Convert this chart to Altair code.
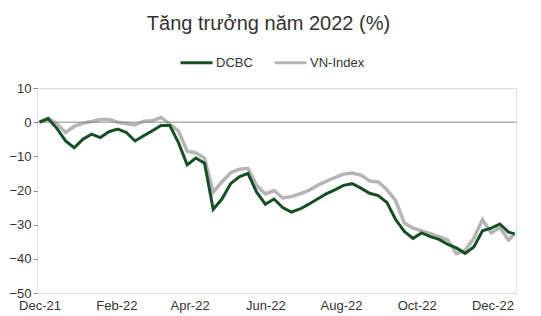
import altair as alt
import pandas as pd

title_text = "Tăng trưởng năm 2022 (%)"
series_names = ["DCBC", "VN-Index"]
series_colors = ["#174f24", "#b5b5b5"]
x_tick_dates = ["2021-12-01", "2022-02-01", "2022-04-01", "2022-06-01",
                "2022-08-01", "2022-10-01", "2022-12-01"]
y_ticks = [10, 0, -10, -20, -30, -40, -50]

weekly_dates = [d.strftime("%Y-%m-%d") for d in pd.date_range("2021-12-01", periods=55, freq="7D")]
dates = weekly_dates + ["2022-12-19"]

dcbc = [0, 1, -1.8, -5.5, -7.5, -5, -3.5, -4.5, -2.8, -2, -3, -5.5, -4, -2.5, -1,
        -1, -6, -12.5, -10.5, -12, -25.5, -22.5, -18, -16, -15, -20.5, -24, -22.5,
        -25, -26.3, -25.4, -24, -22.5, -21, -19.8, -18.5, -18, -19.3, -20.8, -21.5,
        -23.5, -28.5, -32, -34, -32.4, -33.5, -34.3, -35.8, -36.8, -38.4, -36.5,
        -31.8, -31, -29.8, -32.2, -32.7]
vnindex = [0, 1.2, -0.5, -3, -1.2, -0.3, 0.2, 0.8, 0.8, 0, -0.4, -0.8, 0.3, 0.4, 1.4,
           -0.6, -2.6, -8.5, -9, -10.5, -20.5, -17.5, -14.8, -13.8, -13.5, -18.5, -21,
           -20, -22.2, -21.8, -21, -20, -18.5, -17.3, -16.2, -15.2, -14.9, -15.5, -17.2,
           -17.5, -19.8, -23, -29.5, -31, -31.8, -32.6, -33.5, -34.5, -38.5, -37.5, -34,
           -28.5, -32.4, -30.8, -34.5, -32.7]

df = pd.DataFrame({
    "date": dates * 2,
    "value": dcbc + vnindex,
    "series": ["DCBC"] * len(dates) + ["VN-Index"] * len(dates),
})

FONT = "Liberation Sans"

x_enc = alt.X("date:T",
              scale=alt.Scale(domain=["2021-11-29", "2022-12-20"]),
              axis=alt.Axis(values=x_tick_dates, format="%b-%y", title=None,
                            grid=False, domain=False, ticks=False,
                            labelPadding=6, labelFontSize=13, labelColor="#333",
                            labelFont=FONT, labelFlush=False, labelOverlap=False))
y_enc = alt.Y("value:Q",
              scale=alt.Scale(domain=[-50, 10], nice=False),
              axis=alt.Axis(values=y_ticks, title=None, grid=False, domain=False,
                            tickSize=4, tickColor="#888", labelPadding=2,
                            labelFontSize=13, labelColor="#333", labelFont=FONT,
                            labelOverlap=False, labelFlush=False))
color_enc = alt.Color("series:N",
                      scale=alt.Scale(domain=series_names, range=series_colors),
                      legend=alt.Legend(title=None, orient="none", direction="horizontal",
                                        legendX=142, legendY=-43,
                                        symbolType="stroke", symbolSize=1024,
                                        symbolStrokeWidth=3, labelFontSize=13,
                                        labelFont=FONT, labelColor="#333",
                                        labelOffset=2, columnPadding=15))

base = alt.Chart(df)

gray_line = base.transform_filter(alt.datum.series == "VN-Index").mark_line(
    strokeWidth=3.5, interpolate="linear").encode(x=x_enc, y=y_enc, color=color_enc)
green_line = base.transform_filter(alt.datum.series == "DCBC").mark_line(
    strokeWidth=3, interpolate="linear").encode(x=x_enc, y=y_enc, color=color_enc)

zero_rule = alt.Chart(pd.DataFrame({"value": [0]})).mark_rule(
    color="#888", strokeWidth=1).encode(y=y_enc)

chart = alt.layer(gray_line, zero_rule, green_line).properties(
    width=479, height=205,
    autosize=alt.AutoSizeParams(type="none"),
    padding={"left": 29, "top": 80, "right": 10, "bottom": 20},
    title=alt.TitleParams(title_text, fontSize=20, font=FONT, color="#333",
                          fontWeight="normal", offset=11, dx=-8),
).configure_view(stroke="#8a8a8a", strokeWidth=1).configure(background="white")

chart.save("out.html", embed_options={"renderer": "svg", "actions": False})
